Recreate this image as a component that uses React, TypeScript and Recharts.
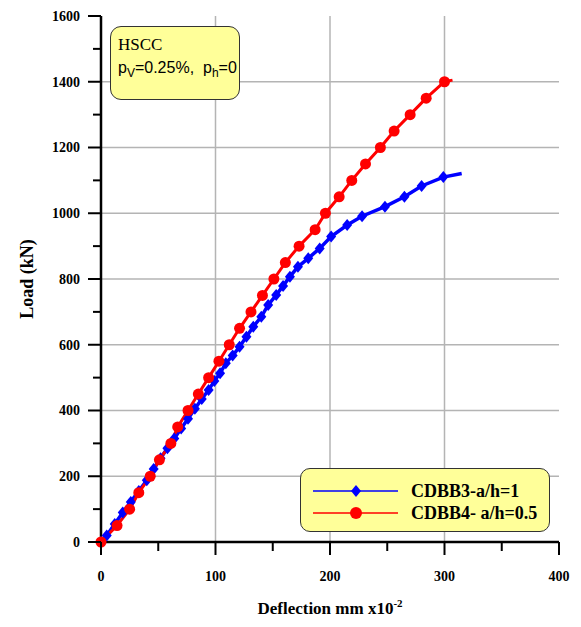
import { LineChart, Line, XAxis, YAxis, CartesianGrid, Legend, Label } from 'recharts';

// CDBB3-a/h=1 (blue diamonds)
const cdbb3Deflection = [0, 5, 12, 19, 26, 33, 40, 46, 52, 58, 64, 70, 76, 82, 88, 94, 99, 104, 109, 115, 121, 127, 133, 140, 146, 153, 159, 165, 172, 181, 191, 201, 215, 228, 248, 265, 280, 299, 315];
const cdbb3Load = [0, 20, 55, 90, 122, 155, 188, 222, 255, 285, 315, 345, 375, 405, 435, 462, 490, 513, 544, 567, 594, 624, 655, 685, 721, 751, 779, 807, 837, 863, 893, 929, 964, 991, 1020, 1050, 1083, 1110, 1121];

// CDBB4- a/h=0.5 (red circles)
const cdbb4Deflection = [0, 14, 25, 33, 43, 51, 61, 67, 76, 85, 94, 103, 112, 121, 131, 141, 151, 161, 173, 187, 196, 208, 219, 231, 244, 256, 270, 284, 300, 307];
const cdbb4Load = [0, 50, 100, 150, 200, 250, 300, 350, 400, 450, 500, 550, 600, 650, 700, 750, 800, 850, 900, 950, 1000, 1050, 1100, 1150, 1200, 1250, 1300, 1350, 1400, 1405];

const xTicks = [0, 50, 100, 150, 200, 250, 300, 350, 400];
const yTicks = [0, 100, 200, 300, 400, 500, 600, 700, 800, 900, 1000, 1100, 1200, 1300, 1400, 1500, 1600];
const xGrid = [100, 200, 300];
const yGrid = [200, 400, 600, 800, 1000, 1200, 1400];

const cdbb3 = cdbb3Deflection.map((x, i) => ({ x, load: cdbb3Load[i] }));
const cdbb4 = cdbb4Deflection.map((x, i) => ({ x, load: cdbb4Load[i] }));

const SERIF = '"Liberation Serif", "Times New Roman", serif';
const SANS = '"Liberation Sans", Arial, sans-serif';
const TICK_SIZE = 12;
const X_MARGIN = 17;
const Y_MARGIN = 9;

const XTick = (props: any) => {
  const { x, y, payload } = props;
  const major = payload.value % 100 === 0;
  const axisY = y - TICK_SIZE - X_MARGIN;
  return (
    <g>
      <line x1={x} x2={x} y1={axisY} y2={axisY + (major ? 13 : 9)} stroke="#000" strokeWidth={2} />
      {major && (
        <text x={x} y={y} dy="0.71em" textAnchor="middle" fontFamily={SERIF} fontWeight="bold" fontSize={14} fill="#000">
          {payload.value}
        </text>
      )}
    </g>
  );
};

const YTick = (props: any) => {
  const { x, y, payload } = props;
  const major = payload.value % 200 === 0;
  const axisX = x + TICK_SIZE + Y_MARGIN;
  return (
    <g>
      <line x1={axisX} x2={axisX - (major ? 13 : 8)} y1={y} y2={y} stroke="#000" strokeWidth={2} />
      {major && (
        <text x={x} y={y} dy="0.35em" textAnchor="end" fontFamily={SERIF} fontWeight="bold" fontSize={14} fill="#000">
          {payload.value}
        </text>
      )}
    </g>
  );
};

const lastOf = (arr: any[]) => arr.length - 1;

const Diamond = (props: any) => {
  const { cx, cy, index } = props;
  if (index === lastOf(cdbb3) || cx == null) return <g key={`d${index}`} />;
  return <polygon key={`d${index}`} points={`${cx},${cy - 6} ${cx + 5},${cy} ${cx},${cy + 6} ${cx - 5},${cy}`} fill="#0000ff" />;
};

const Circle = (props: any) => {
  const { cx, cy, index } = props;
  if (index === lastOf(cdbb4) || cx == null) return <g key={`c${index}`} />;
  return <circle key={`c${index}`} cx={cx} cy={cy} r={5.5} fill="#ff0000" />;
};

const LegendBox = () => (
  <div
    style={{
      width: 250,
      height: 64,
      background: '#ffff99',
      border: '1.5px solid #333',
      borderRadius: 10,
      boxSizing: 'border-box',
      position: 'relative',
    }}
  >
    <svg width={100} height={64} style={{ position: 'absolute', left: 0, top: 0 }}>
      <line x1={12} x2={97} y1={22} y2={22} stroke="#0000ff" strokeWidth={1.5} />
      <polygon points="55,16 60,22 55,28 50,22" fill="#0000ff" />
      <line x1={12} x2={97} y1={44} y2={44} stroke="#ff0000" strokeWidth={1.5} />
      <circle cx={55} cy={44} r={6} fill="#ff0000" />
    </svg>
    <div style={{ position: 'absolute', left: 110, top: 11, fontFamily: SERIF, fontWeight: 'bold', fontSize: 18, lineHeight: '22px', whiteSpace: 'nowrap' }}>
      <div>CDBB3-a/h=1</div>
      <div>CDBB4- a/h=0.5</div>
    </div>
  </div>
);

export default function App() {
  return (
    <div style={{ position: 'absolute', left: 0, top: 0, width: 581, height: 627, background: '#fff' }}>
      <LineChart width={581} height={627} margin={{ top: 16, right: 22, left: 0, bottom: 0 }}>
        <CartesianGrid horizontalValues={yGrid} verticalValues={xGrid} stroke="#b4b4b4" strokeWidth={1.5} />
        <XAxis
          dataKey="x"
          type="number"
          domain={[0, 400]}
          ticks={xTicks}
          interval={0}
          height={85}
          tickSize={TICK_SIZE}
          tickMargin={X_MARGIN}
          tickLine={false}
          tick={XTick}
          axisLine={{ stroke: '#000', strokeWidth: 2.5 }}
        >
          <Label
            content={(p: any) => {
              const vb = p.viewBox;
              return (
                <text x={vb.x + vb.width / 2} y={614} textAnchor="middle" fontFamily={SERIF} fontWeight="bold" fontSize={17} fill="#000">
                  Deflection mm x10
                  <tspan dy={-7} fontSize={11}>-2</tspan>
                </text>
              );
            }}
          />
        </XAxis>
        <XAxis xAxisId="top" orientation="top" type="number" domain={[0, 400]} height={0} tick={false} tickLine={false} axisLine={{ stroke: '#000', strokeWidth: 2.5 }} />
        <YAxis
          type="number"
          domain={[0, 1600]}
          ticks={yTicks}
          interval={0}
          width={101}
          tickSize={TICK_SIZE}
          tickMargin={Y_MARGIN}
          tickLine={false}
          tick={YTick}
          axisLine={{ stroke: '#000', strokeWidth: 2.5 }}
        >
          <Label
            content={(p: any) => {
              const vb = p.viewBox;
              const cy = vb.y + vb.height / 2;
              return (
                <text x={27} y={cy} transform={`rotate(-90, 27, ${cy})`} textAnchor="middle" dominantBaseline="central" fontFamily={SERIF} fontWeight="bold" fontSize={18} fill="#000">
                  Load (kN)
                </text>
              );
            }}
          />
        </YAxis>
        <YAxis yAxisId="right" orientation="right" type="number" domain={[0, 1600]} width={0} tick={false} tickLine={false} axisLine={{ stroke: '#000', strokeWidth: 2.5 }} />
        <Legend
          layout="horizontal"
          verticalAlign="middle"
          align="center"
          content={() => <LegendBox />}
          wrapperStyle={{ position: 'absolute', left: 300, top: 468, width: 250, height: 64 }}
        />
        <Line
          data={cdbb3}
          dataKey="load"
          name="CDBB3-a/h=1"
          type="linear"
          stroke="#0000ff"
          strokeWidth={3.5}
          dot={Diamond}
          activeDot={false}
          isAnimationActive={false}
        />
        <Line
          data={cdbb4}
          dataKey="load"
          name="CDBB4- a/h=0.5"
          type="linear"
          stroke="#ff0000"
          strokeWidth={3}
          dot={Circle}
          activeDot={false}
          isAnimationActive={false}
        />
      </LineChart>
      <div
        style={{
          position: 'absolute',
          left: 110,
          top: 26,
          width: 130,
          height: 74,
          background: '#ffff99',
          border: '1.5px solid #333',
          borderRadius: 11,
          boxSizing: 'border-box',
        }}
      >
        <div style={{ position: 'absolute', left: 7, top: 8, fontFamily: SERIF, fontSize: 17, lineHeight: '20px' }}>HSCC</div>
        <div style={{ position: 'absolute', left: 7, top: 31, fontFamily: SANS, fontSize: 16, lineHeight: '20px', whiteSpace: 'nowrap' }}>
          p<sub style={{ fontSize: 12 }}>V</sub>=0.25%,&nbsp;&nbsp;p<sub style={{ fontSize: 12 }}>h</sub>=0
        </div>
      </div>
    </div>
  );
}
